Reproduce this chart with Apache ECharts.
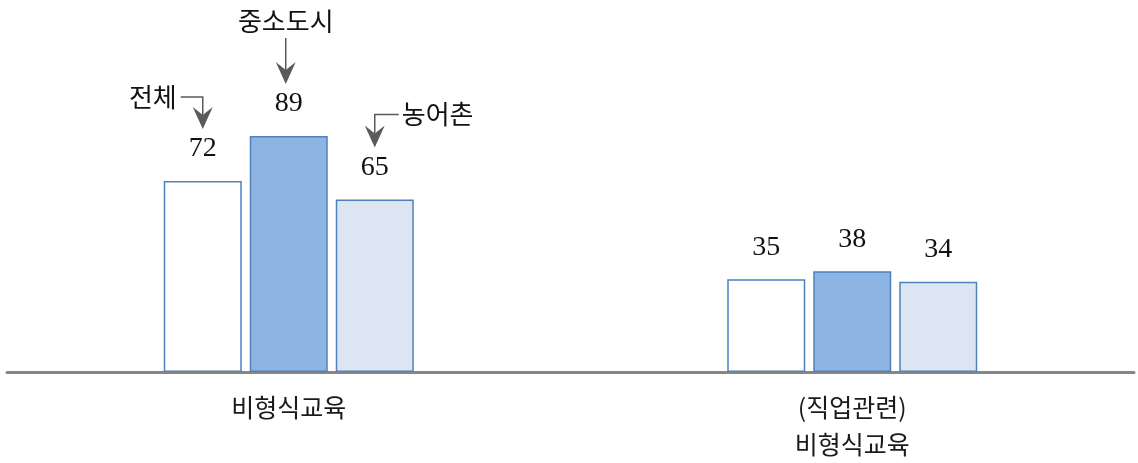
<!DOCTYPE html>
<html>
<head>
<meta charset="utf-8">
<script src="https://cdn.jsdelivr.net/npm/echarts@6/dist/echarts.min.js"></script>
<style>
html,body{margin:0;padding:0;background:#fff;}
#chart{width:1138px;height:463px;}
</style>
</head>
<body>
<div id="chart"></div>
<script>
const categories = ['비형식교육', '(직업관련)\n비형식교육'];
const seriesNames = ['전체', '중소도시', '농어촌'];
const totalValues = [72, 35];
const cityValues = [89, 38];
const ruralValues = [65, 34];

const fills = ['#ffffff', '#8eb4e3', '#dce6f2'];
const borderColor = '#4f81bd';
const BAR_W = 78, BAR_GAP_PX = 8;
const numFont = '"Liberation Serif", "Times New Roman", serif';
const krFont = '"Noto Sans CJK KR", "Noto Sans", sans-serif';

const chart = echarts.init(document.getElementById('chart'), null, {renderer: 'canvas'});

const allValues = [totalValues, cityValues, ruralValues];

chart.setOption({
  animation: false,
  backgroundColor: '#ffffff',
  grid: {left: 7, right: 4, top: 106.7, bottom: 90, containLabel: false},
  xAxis: {
    type: 'category',
    data: categories,
    axisLine: {show: true, lineStyle: {color: '#868686', width: 3}},
    axisTick: {show: false},
    axisLabel: {
      color: '#1a1a1a', fontSize: 25, fontFamily: krFont, lineHeight: 37, margin: 17
    }
  },
  yAxis: {
    type: 'value', min: 0, max: 100,
    show: false,
    splitLine: {show: false}
  },
  series: allValues.map((vals, i) => ({
    name: seriesNames[i],
    type: 'bar',
    data: vals,
    barWidth: BAR_W,
    barGap: (BAR_GAP_PX / BAR_W * 100) + '%',
    itemStyle: {color: fills[i], borderColor: borderColor, borderWidth: 1.5},
    label: {
      show: true, position: 'top', distance: 18,
      fontFamily: numFont, fontSize: 28, color: '#111'
    }
  }))
});

// Annotations with arrows, placed from the axis scales
const offsets = [-(BAR_W + BAR_GAP_PX), 0, BAR_W + BAR_GAP_PX];
const arrowColor = '#5a5a5a';
const graphics = [];

function arrowHead(x, tipY) {
  return {
    type: 'polygon',
    shape: {points: [[x, tipY], [x - 10, tipY - 22], [x, tipY - 14], [x + 10, tipY - 22]]},
    style: {fill: arrowColor}
  };
}
function line(points) {
  return {type: 'polyline', shape: {points: points}, style: {stroke: arrowColor, lineWidth: 1.5, fill: null}};
}
function label(text, x, y, align) {
  return {
    type: 'text',
    style: {text: text, x: x, y: y, align: align, verticalAlign: 'middle',
      font: '26px ' + krFont, fill: '#111'}
  };
}

seriesNames.forEach((name, i) => {
  const p = chart.convertToPixel({seriesIndex: i}, [0, allValues[i][0]]);
  const cx = p[0] + offsets[i];
  const ty = p[1];
  const tipY = ty - 52;
  if (i === 0) {
    const hy = ty - 84;
    graphics.push(line([[cx - 22, hy], [cx, hy], [cx, tipY - 14]]));
    graphics.push(arrowHead(cx, tipY));
    graphics.push(label(name, cx - 26, hy, 'right'));
  } else if (i === 1) {
    const ax = cx - 3;
    graphics.push(line([[ax, ty - 98], [ax, tipY - 14]]));
    graphics.push(arrowHead(ax, tipY));
    graphics.push(label(name, ax, ty - 115, 'center'));
  } else {
    const hy = ty - 85;
    graphics.push(line([[cx + 24, hy], [cx, hy], [cx, tipY - 14]]));
    graphics.push(arrowHead(cx, tipY));
    graphics.push(label(name, cx + 27, hy, 'left'));
  }
});

chart.setOption({graphic: {elements: graphics}});
</script>
</body>
</html>
